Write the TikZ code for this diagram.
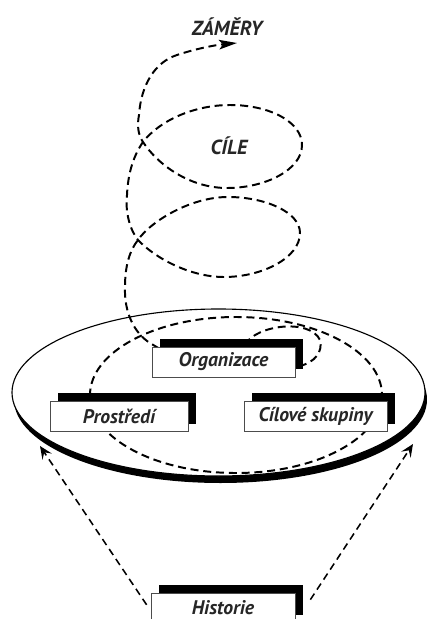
\documentclass[tikz,border=0pt]{standalone}
\usepackage{fontspec}
\setsansfont{PT Sans}
\usetikzlibrary{arrows.meta}
\usetikzlibrary{shadows}
\definecolor{textgray}{HTML}{262626}
\tikzset{
  box/.style={draw=black!70, line width=0.5pt, fill=white, minimum height=0.75cm,
    text=textgray, font=\sffamily\bfseries\itshape\fontsize{14}{16}\selectfont,
    drop shadow={fill=black, opacity=1, shadow xshift=0.2cm, shadow yshift=0.2cm}},
  title/.style={text=textgray, font=\sffamily\bfseries\itshape\fontsize{14.5}{16}\selectfont},
  loopline/.style={line width=1.4pt, dash pattern=on 0.2cm off 0.12cm},
  link/.style={line width=1.1pt, dash pattern=on 0.18cm off 0.12cm,
    -{Stealth[length=0.32cm, width=0.28cm, inset=0.13cm]}}
}
\begin{document}
\begin{tikzpicture}[x=0.025cm, y=-0.025cm]
 \useasboundingbox (0,0) rectangle (427,619);
 \clip (0,0) rectangle (427,619);
 % disk
 \fill (220.5,399.5) ellipse [x radius=206.5, y radius=83.5];
 \draw[fill=white, line width=0.8pt] (218.5,392.5) ellipse [x radius=206.5, y radius=83.5];
 % loops inside the disk
 \draw[loopline] (236,395) ellipse [x radius=146, y radius=78];
 \draw[loopline] (245,345) .. controls (255,325) and (310,318) .. (320,340)
   .. controls (323,352) and (315,362) .. (300,366);
 % spiral up to the aims
 \draw[loopline, -{Stealth[length=0.45cm, width=0.24cm, inset=0.1cm]}]
   (170,355) -- (150,343) .. controls (134,333) and (124,312) .. (125,287)
   .. controls (125,265) and (130,250) .. (138,240)
   .. controls (150,222) and (190,197) .. (228,197)
   .. controls (265,197) and (300,212) .. (300,233)
   .. controls (300,258) and (262,277) .. (224,277)
   .. controls (190,277) and (155,258) .. (138,240)
   .. controls (130,230) and (125,212) .. (127,195)
   .. controls (128,172) and (134,155) .. (143,142)
   .. controls (160,120) and (195,105) .. (230,105)
   .. controls (270,105) and (302,122) .. (302,145)
   .. controls (302,170) and (265,188) .. (227,188)
   .. controls (190,188) and (158,165) .. (143,142)
   .. controls (138,135) and (137,125) .. (139,115)
   .. controls (141,85) and (155,62) .. (177,55)
   .. controls (195,49) and (215,45) .. (237,43);
 \node[title] (aims) at (227,27) {ZÁMĚRY};
 \node[title] (goals) at (229,146) {CÍLE};
 % boxes
 \node[box, minimum width=3.58cm] (org) at (223.5,362) {Organizace};
 \node[box, minimum width=3.45cm] (env) at (119,416.5) {Prostředí};
 \node[box, minimum width=3.58cm] (grp) at (315.5,416.5) {Cílové skupiny};
 \node[box, minimum width=3.6cm] (hist) at (223,608) {Historie};
 % history arrows
 \coordinate (tipL) at (40,446);
 \coordinate (tipR) at (413,444);
 \draw[link] ([xshift=-0.1cm, yshift=0.08cm]hist.west) -- (tipL);
 \draw[link] ([xshift=0.375cm, yshift=-0.175cm]hist.north east) -- (tipR);
\end{tikzpicture}
\end{document}
